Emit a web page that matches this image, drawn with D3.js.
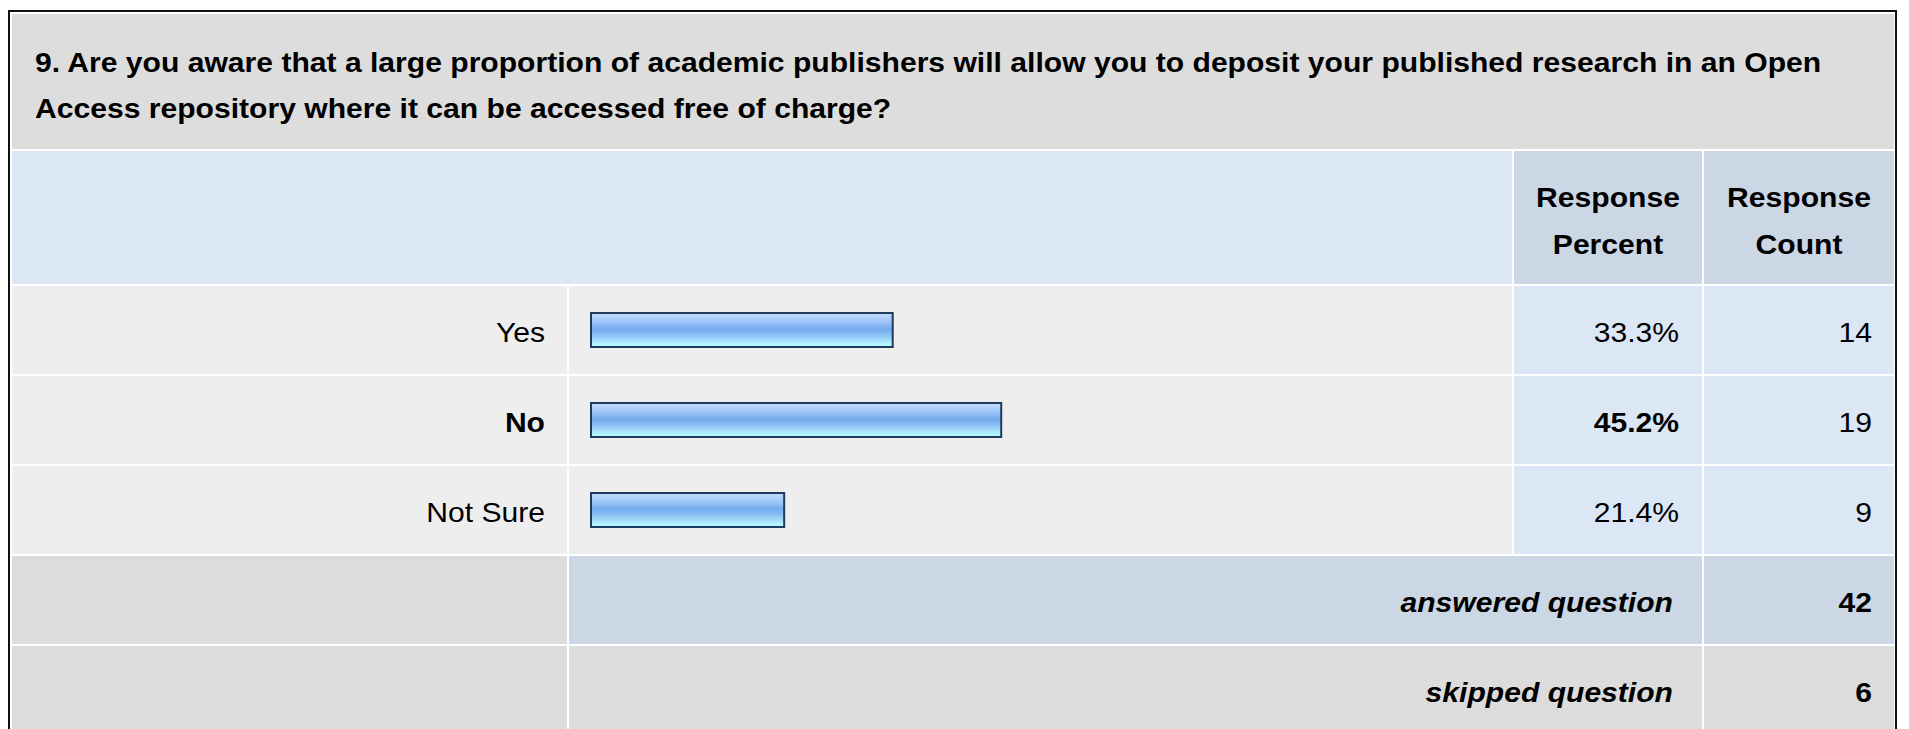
<!DOCTYPE html>
<html>
<head>
<meta charset="utf-8">
<script src="https://cdn.jsdelivr.net/npm/d3@7"></script>
<style>
  html, body { margin: 0; padding: 0; background: #ffffff; }
  svg { display: block; }
  text { font-family: "Liberation Sans", Arial, Helvetica, sans-serif; fill: #000; }
</style>
</head>
<body>
<script>
// ---- data ----
const titleLines = [
  "9. Are you aware that a large proportion of academic publishers will allow you to deposit your published research in an Open",
  "Access repository where it can be accessed free of charge?"
];
const headerLabels = [["Response", "Percent"], ["Response", "Count"]];
const categories = ["Yes", "No", "Not Sure"];
const percents = [33.3, 45.2, 21.4];
const counts = [14, 19, 9];
const summaryLabels = ["answered question", "skipped question"];
const summaryValues = [42, 6];

// ---- layout ----
const W = 1909, H = 729;
const FS = 27, SX = 1.115;
const colX = [12, 569, 1514, 1704];
const colR = [567, 1512, 1702, 1894];

const svg = d3.select("body").append("svg").attr("width", W).attr("height", H);

function txt(g, s, x, y, anchor, weight, style) {
  return g.append("text")
    .attr("transform", `translate(${x},${y}) scale(${SX},1)`)
    .attr("text-anchor", anchor)
    .style("font-size", FS + "px")
    .style("font-weight", weight || "normal")
    .style("font-style", style || "normal")
    .text(s);
}
function cell(x0, x1, y0, y1, fill) {
  svg.append("rect").attr("x", x0).attr("y", y0).attr("width", x1 - x0).attr("height", y1 - y0).attr("fill", fill);
}

// gradient for bars
const defs = svg.append("defs");
const grad = defs.append("linearGradient").attr("id", "barGrad").attr("x1", 0).attr("y1", 0).attr("x2", 0).attr("y2", 1);
[[0, "#c4defc"], [0.18, "#a8cdf9"], [0.32, "#94bff6"], [0.45, "#76abef"], [0.55, "#7cb1f0"],
 [0.68, "#92c6f6"], [0.8, "#a4dafa"], [0.9, "#b2f2ff"], [1, "#b8fcff"]]
  .forEach(([o, c]) => grad.append("stop").attr("offset", o).attr("stop-color", c));

// title
cell(12, 1894, 14, 149, "#dddddd");
titleLines.forEach((t, i) => txt(svg, t, 35, 72 + i * 46, "start", "bold"));

// header
cell(12, 1512, 151, 284, "#dce7f5");
cell(colX[2], colR[2], 151, 284, "#cbd7e5");
cell(colX[3], colR[3], 151, 284, "#cbd7e5");
headerLabels.forEach((lines, j) => {
  const cx = (colX[j + 2] + colR[j + 2]) / 2;
  lines.forEach((l, k) => txt(svg, l, cx, 207 + k * 46.5, "middle", "bold"));
});

// rows
const y = d3.scaleBand().domain(categories).range([286, 554]).paddingInner(2 / 90);
const x = d3.scaleLinear().domain([0, 100]).range([590, 1502]);
const maxP = d3.max(percents);
const barH = 36;

categories.forEach((c, i) => {
  const y0 = y(c), y1 = y0 + y.bandwidth(), cy = y0 + y.bandwidth() / 2;
  const isMax = percents[i] === maxP;
  cell(colX[0], colR[0], y0, y1, "#eeeeee");
  cell(colX[1], colR[1], y0, y1, "#eeeeee");
  cell(colX[2], colR[2], y0, y1, "#dce7f5");
  cell(colX[3], colR[3], y0, y1, "#dce7f5");
  txt(svg, c, 545, cy + 12, "end", isMax ? "bold" : "normal");
  svg.append("rect")
    .attr("x", x(0) + 1).attr("y", cy - barH / 2 + 1)
    .attr("width", x(percents[i]) - x(0) - 2).attr("height", barH - 2)
    .attr("fill", "url(#barGrad)")
    .attr("stroke", "#1d3a5f").attr("stroke-width", 2);
  txt(svg, percents[i].toFixed(1) + "%", 1679, cy + 12, "end", isMax ? "bold" : "normal");
  txt(svg, String(counts[i]), 1872, cy + 12, "end", "normal");
});

// summary rows
const ys = d3.scaleBand().domain(summaryLabels).range([556, 734]).paddingInner(2 / 90);
summaryLabels.forEach((s, i) => {
  const y0 = ys(s), y1 = y0 + ys.bandwidth(), cy = y0 + ys.bandwidth() / 2;
  const fill = i === 0 ? "#cbd7e5" : "#dcdcdc";
  cell(colX[0], colR[0], y0, y1, "#dcdcdc");
  cell(colX[1], colR[2], y0, y1, fill);
  cell(colX[3], colR[3], y0, y1, fill);
  txt(svg, s, 1673, cy + 12, "end", "bold", "italic");
  txt(svg, String(summaryValues[i]), 1872, cy + 12, "end", "bold");
});

// outer border
svg.append("rect").attr("x", 9).attr("y", 11).attr("width", 1887).attr("height", 800)
  .attr("fill", "none").attr("stroke", "#111").attr("stroke-width", 2);
</script>
</body>
</html>
